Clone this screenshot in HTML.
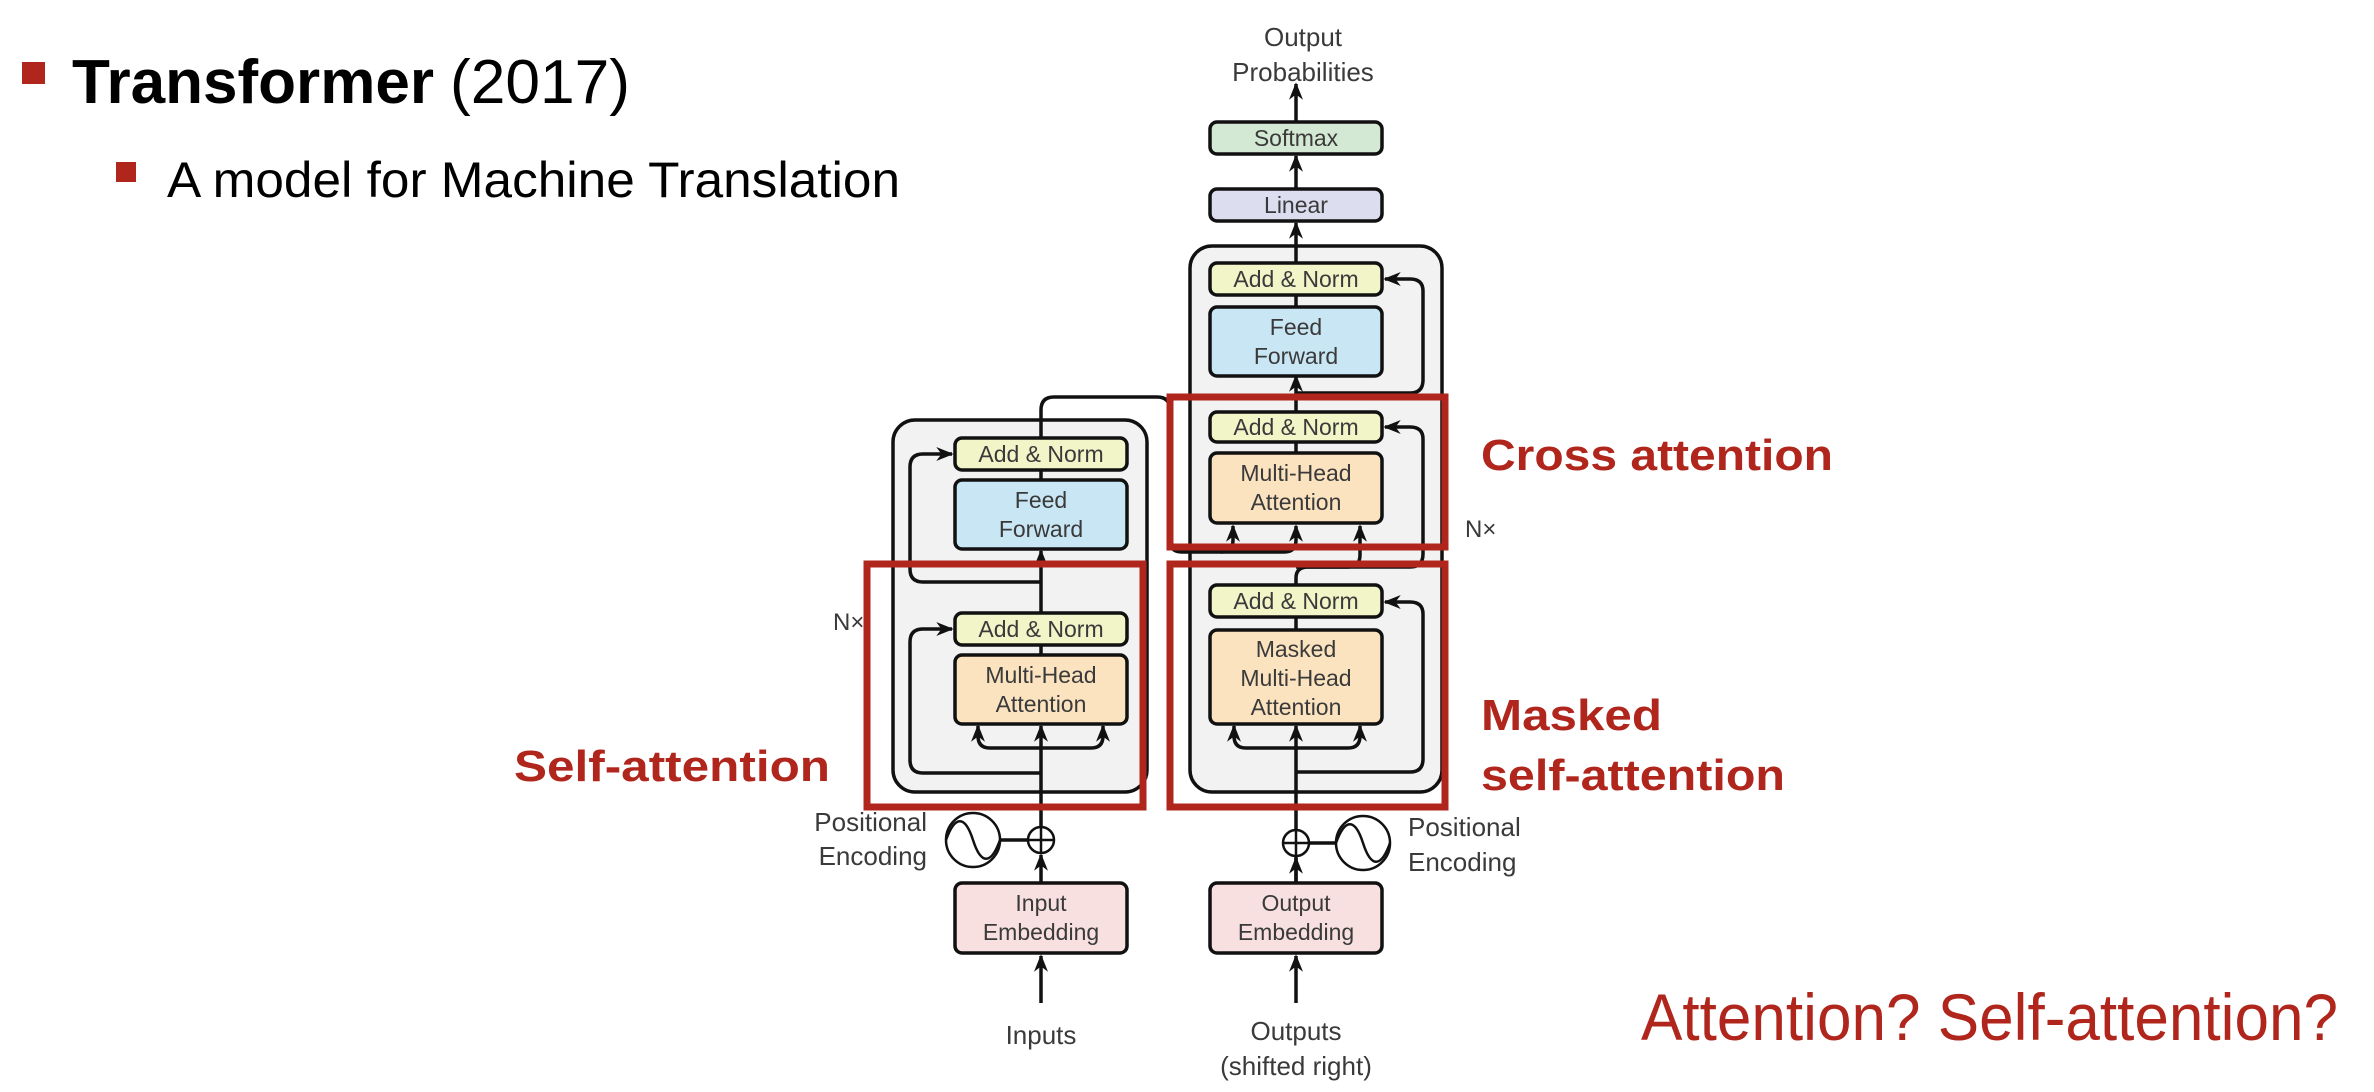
<!DOCTYPE html>
<html><head><meta charset="utf-8"><style>
html,body{margin:0;padding:0;background:#fff;}
svg{display:block;}
</style></head><body>
<svg width="2374" height="1092" viewBox="0 0 2374 1092" xmlns="http://www.w3.org/2000/svg" font-family="Liberation Sans, sans-serif">
<defs>
<marker id="ah" viewBox="0 0 10 10" refX="9" refY="5" markerWidth="5" markerHeight="5" orient="auto-start-reverse" markerUnits="strokeWidth">
<path d="M0,1 L10,5 L0,9 L3,5 z" fill="#111"/></marker>
</defs>

<rect x="22" y="62" width="23" height="22" fill="#b0261c"/>
<text x="72" y="103" font-size="62" font-weight="bold" fill="#000" textLength="362" lengthAdjust="spacingAndGlyphs">Transformer</text>
<text x="450" y="103" font-size="62" fill="#000" textLength="180" lengthAdjust="spacingAndGlyphs">(2017)</text>
<rect x="116" y="162" width="20" height="20" fill="#b0261c"/>
<text x="167" y="197" font-size="50" fill="#000" textLength="733" lengthAdjust="spacingAndGlyphs">A model for Machine Translation</text>

<rect x="893" y="420" width="254" height="372" rx="22" fill="#f2f2f2" stroke="#111" stroke-width="3.5"/>
<rect x="1190" y="246" width="252" height="546" rx="22" fill="#f2f2f2" stroke="#111" stroke-width="3.5"/>

<g stroke="#111" stroke-width="3.5" fill="none">
<line x1="1296" y1="122" x2="1296" y2="84" marker-end="url(#ah)"/>
<line x1="1296" y1="189" x2="1296" y2="156" marker-end="url(#ah)"/>
<line x1="1296" y1="263" x2="1296" y2="223" marker-end="url(#ah)"/>
<line x1="1296" y1="307" x2="1296" y2="295"/>
<line x1="1296" y1="412" x2="1296" y2="376" marker-end="url(#ah)"/>
<line x1="1296" y1="453" x2="1296" y2="442"/>
<path d="M1296,393 H1410 Q1423,393 1423,380 V291 Q1423,279 1410,279 H1385" marker-end="url(#ah)"/>
<path d="M1296,585 V578 Q1296,567 1308,567 H1348 Q1360,567 1360,555 V526" marker-end="url(#ah)"/>
<path d="M1296,567 H1410 Q1423,567 1423,554 V439 Q1423,427 1410,427 H1385" marker-end="url(#ah)"/>
<line x1="1296" y1="630" x2="1296" y2="617"/>
<path d="M1041,438 V410 Q1041,397 1054,397 H1157 Q1170,397 1170,410 V540 Q1170,552 1182,552 H1221 Q1233,552 1233,540 V526" marker-end="url(#ah)"/>
<path d="M1221,552 H1284 Q1296,552 1296,540 V526" marker-end="url(#ah)"/>
<line x1="1296" y1="953" x2="1296" y2="857"/>
<line x1="1296" y1="829" x2="1296" y2="726" marker-end="url(#ah)"/>
<path d="M1296,748 H1246 Q1234,748 1234,736 V726" marker-end="url(#ah)"/>
<path d="M1296,748 H1348 Q1360,748 1360,736 V726" marker-end="url(#ah)"/>
<path d="M1296,772 H1410 Q1423,772 1423,759 V614 Q1423,602 1410,602 H1385" marker-end="url(#ah)"/>
<line x1="1296" y1="1003" x2="1296" y2="956" marker-end="url(#ah)"/>
<line x1="1296" y1="883" x2="1296" y2="858" marker-end="url(#ah)"/>
<line x1="1309" y1="843" x2="1336" y2="843"/>
<line x1="1041" y1="480" x2="1041" y2="470"/>
<line x1="1041" y1="613" x2="1041" y2="551" marker-end="url(#ah)"/>
<line x1="1041" y1="655" x2="1041" y2="646"/>
<path d="M1041,582 H923 Q910,582 910,569 V467 Q910,454 923,454 H952" marker-end="url(#ah)"/>
<line x1="1041" y1="827" x2="1041" y2="726" marker-end="url(#ah)"/>
<path d="M1041,748 H990 Q978,748 978,736 V726" marker-end="url(#ah)"/>
<path d="M1041,748 H1091 Q1103,748 1103,736 V726" marker-end="url(#ah)"/>
<path d="M1041,773 H923 Q910,773 910,760 V642 Q910,629 923,629 H952" marker-end="url(#ah)"/>
<line x1="1041" y1="1003" x2="1041" y2="956" marker-end="url(#ah)"/>
<line x1="1041" y1="883" x2="1041" y2="855" marker-end="url(#ah)"/>
<line x1="1000" y1="840" x2="1028" y2="840"/>
</g>

<g stroke="#111" stroke-width="3.5">
<rect x="1210" y="122" width="172" height="32" rx="7" fill="#d3e9d3"/>
<rect x="1210" y="189" width="172" height="32" rx="7" fill="#dcdef0"/>
<rect x="1210" y="263" width="172" height="32" rx="7" fill="#f2f5c8"/>
<rect x="1210" y="307" width="172" height="69" rx="7" fill="#c8e6f4"/>
<rect x="1210" y="412" width="172" height="30" rx="7" fill="#f2f5c8"/>
<rect x="1210" y="453" width="172" height="70" rx="7" fill="#fbe3c0"/>
<rect x="1210" y="585" width="172" height="32" rx="7" fill="#f2f5c8"/>
<rect x="1210" y="630" width="172" height="94" rx="7" fill="#fbe3c0"/>
<rect x="1210" y="883" width="172" height="70" rx="7" fill="#f8e0e0"/>
<rect x="955" y="438" width="172" height="32" rx="7" fill="#f2f5c8"/>
<rect x="955" y="480" width="172" height="69" rx="7" fill="#c8e6f4"/>
<rect x="955" y="613" width="172" height="32" rx="7" fill="#f2f5c8"/>
<rect x="955" y="655" width="172" height="69" rx="7" fill="#fbe3c0"/>
<rect x="955" y="883" width="172" height="70" rx="7" fill="#f8e0e0"/>
</g>

<g stroke="#111" stroke-width="2.5" fill="#fff">
<circle cx="973" cy="840" r="27"/>
<circle cx="1041" cy="840" r="13"/>
<circle cx="1363" cy="843" r="27"/>
<circle cx="1296" cy="843" r="13"/>
</g>
<g stroke="#111" stroke-width="2.5" fill="none">
<path d="M946,840 C955,815 965,815 973,840 C981,865 991,865 1000,840"/>
<path d="M1041,827 V853 M1028,840 H1054"/>
<path d="M1336,843 C1345,818 1355,818 1363,843 C1371,868 1381,868 1390,843"/>
<path d="M1296,830 V856 M1283,843 H1309"/>
</g>

<g font-size="23" fill="#3a3a3a" text-anchor="middle">
<text x="1296" y="146">Softmax</text>
<text x="1296" y="213">Linear</text>
<text x="1296" y="287">Add &amp; Norm</text>
<text x="1296" y="335">Feed</text>
<text x="1296" y="364">Forward</text>
<text x="1296" y="435">Add &amp; Norm</text>
<text x="1296" y="481">Multi-Head</text>
<text x="1296" y="510">Attention</text>
<text x="1296" y="609">Add &amp; Norm</text>
<text x="1296" y="657">Masked</text>
<text x="1296" y="686">Multi-Head</text>
<text x="1296" y="715">Attention</text>
<text x="1296" y="911">Output</text>
<text x="1296" y="940">Embedding</text>
<text x="1041" y="462">Add &amp; Norm</text>
<text x="1041" y="508">Feed</text>
<text x="1041" y="537">Forward</text>
<text x="1041" y="637">Add &amp; Norm</text>
<text x="1041" y="683">Multi-Head</text>
<text x="1041" y="712">Attention</text>
<text x="1041" y="911">Input</text>
<text x="1041" y="940">Embedding</text>
</g>
<g font-size="26" fill="#3a3a3a">
<text x="1303" y="46" text-anchor="middle">Output</text>
<text x="1303" y="81" text-anchor="middle">Probabilities</text>
<text x="1041" y="1044" text-anchor="middle">Inputs</text>
<text x="1296" y="1040" text-anchor="middle">Outputs</text>
<text x="1296" y="1075" text-anchor="middle">(shifted right)</text>
<text x="927" y="831" text-anchor="end">Positional</text>
<text x="927" y="865" text-anchor="end">Encoding</text>
<text x="1408" y="836">Positional</text>
<text x="1408" y="871">Encoding</text>
<text x="833" y="630" font-size="24">N×</text>
<text x="1465" y="537" font-size="24">N×</text>
</g>

<g fill="none" stroke="#b0261c" stroke-width="7">
<rect x="1170" y="397" width="275" height="150"/>
<rect x="1170" y="564" width="275" height="243"/>
<rect x="867" y="564" width="276" height="243"/>
</g>

<g fill="#b0261c" font-weight="bold" font-size="44">
<text x="1481" y="470" textLength="352" lengthAdjust="spacingAndGlyphs">Cross attention</text>
<text x="1481" y="730" textLength="181" lengthAdjust="spacingAndGlyphs">Masked</text>
<text x="1481" y="790" textLength="304" lengthAdjust="spacingAndGlyphs">self-attention</text>
<text x="514" y="781" textLength="316" lengthAdjust="spacingAndGlyphs">Self-attention</text>
</g>
<text x="1641" y="1040" fill="#b0261c" font-size="66" textLength="697" lengthAdjust="spacingAndGlyphs">Attention? Self-attention?</text>
</svg>
</body></html>
